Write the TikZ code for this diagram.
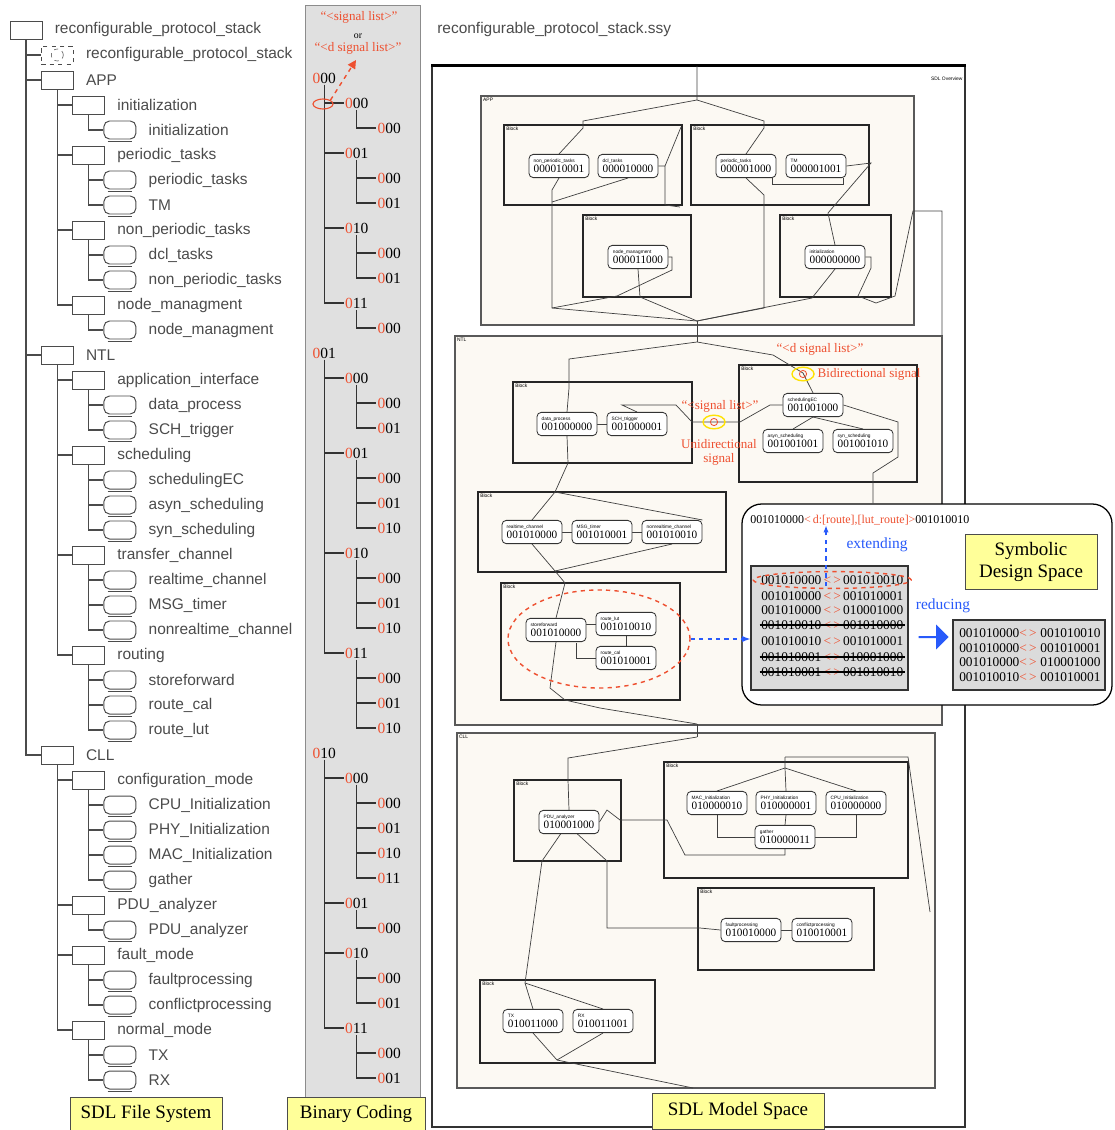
\documentclass[tikz,border=0pt]{standalone}
\usepackage{fontspec}
\setmainfont{Liberation Serif}
\newfontfamily\treefont{Liberation Sans}
\usetikzlibrary{positioning,fit,shapes.geometric,shapes.arrows,arrows.meta}

\definecolor{codered}{RGB}{238,80,48}
\definecolor{sdlblue}{RGB}{40,90,250}
\definecolor{labelyellow}{RGB}{255,255,153}
\definecolor{pkgfill}{RGB}{252,249,243}
\definecolor{panelgray}{RGB}{224,224,224}
\definecolor{treegray}{RGB}{75,75,75}

\newcommand{\sdlname}[1]{{\treefont\fontsize{3.4}{3.6}\selectfont #1}}
\newcommand{\pairrow}[2]{#1\,\textcolor{codered}{<\,>}\,#2}

\begin{document}
\begin{tikzpicture}[x=0.025cm, y=-0.025cm,
	treebox/.style={draw=treegray, line width=0.7pt, fill=white, minimum width=0.8cm, minimum height=0.45cm, inner sep=0pt},
	treetext/.style={text=treegray, font=\treefont\fontsize{11}{13}\selectfont, inner sep=0pt},
	treeline/.style={draw=treegray, line width=0.8pt},
	codetext/.style={font=\fontsize{11}{12}\selectfont, inner sep=1pt, anchor=west},
	codeline/.style={draw=black!80, line width=0.8pt},
	redtext/.style={text=codered, font=\fontsize{9.3}{10}\selectfont, inner sep=1pt},
	yellowlabel/.style={draw=black!70, fill=labelyellow, font=\fontsize{13.5}{15}\selectfont, inner sep=2pt, align=center},
	pkgbox/.style={draw=black!65, line width=1.3pt, fill=pkgfill, inner sep=0pt},
	blockbox/.style={draw=black!85, line width=1.1pt, fill=pkgfill, inner sep=0pt},
	procbox/.style={draw=black!80, line width=0.6pt, rounded corners=3pt, fill=white, minimum width=1.5cm, minimum height=0.58cm, inner sep=1pt, align=left, font=\fontsize{8}{7}\selectfont},
	chan/.style={draw=black!75, line width=0.5pt},
	tinytext/.style={font=\treefont\fontsize{3.5}{4}\selectfont, inner sep=2pt, anchor=north west},
	pairtext/.style={font=\fontsize{9.5}{10}\selectfont, inner sep=0pt, anchor=west},
	graybox/.style={draw=black!80, line width=0.8pt, fill=black!14, inner sep=0pt},
	markell/.style={draw=yellow!85!orange, ellipse, line width=1pt, minimum width=0.55cm, minimum height=0.34cm, inner sep=0pt}
	]
	\useasboundingbox (0,0) rectangle (1114,1130);
	
	% binary coding panel
	\node[fill=panelgray, draw=black!45, fit={(305,5) (420,1097)}, inner sep=0pt] (panel) {};
	
	% SDL file system tree
	\foreach \r/\l/\rc/\t in {0/0/0/reconfigurable\_protocol\_stack, 2/1/0/APP,
		3/2/0/initialization, 4/3/4/initialization, 5/2/0/periodic\_tasks, 6/3/4/periodic\_tasks, 7/3/4/TM,
		8/2/0/non\_periodic\_tasks, 9/3/4/dcl\_tasks, 10/3/4/non\_periodic\_tasks, 11/2/0/node\_managment, 12/3/4/node\_managment,
		13/1/0/NTL, 14/2/0/application\_interface, 15/3/4/data\_process, 16/3/4/SCH\_trigger,
		17/2/0/scheduling, 18/3/4/schedulingEC, 19/3/4/asyn\_scheduling, 20/3/4/syn\_scheduling,
		21/2/0/transfer\_channel, 22/3/4/realtime\_channel, 23/3/4/MSG\_timer, 24/3/4/nonrealtime\_channel,
		25/2/0/routing, 26/3/4/storeforward, 27/3/4/route\_cal, 28/3/4/route\_lut,
		29/1/0/CLL, 30/2/0/configuration\_mode, 31/3/4/CPU\_Initialization, 32/3/4/PHY\_Initialization,
		33/3/4/MAC\_Initialization, 34/3/4/gather, 35/2/0/PDU\_analyzer, 36/3/4/PDU\_analyzer,
		37/2/0/fault\_mode, 38/3/4/faultprocessing, 39/3/4/conflictprocessing,
		40/2/0/normal\_mode, 41/3/4/TX, 42/3/4/RX}{
		\node[treebox, rounded corners=\rc pt] (t\r) at ({26+31.3*\l},{30+25*\r}) {};
		\node[treetext, anchor=west, right=0.3cm of t\r] (l\r) {\t};
		\ifnum\rc>0
		\draw[treeline, line width=0.6pt] ([xshift=3pt,yshift=-1.4pt]t\r.south west) -- ([xshift=-3pt,yshift=-1.4pt]t\r.south east);
		\fi
	}
	\node[treebox, dashed] (t1) at (57.3,55) {};
	\node[draw=treegray, dashed, circle, minimum size=0.3cm, inner sep=0pt] (t1c) at (t1.center) {};
	\node[treetext, anchor=west, right=0.3cm of t1] (l1) {reconfigurable\_protocol\_stack};
	
	\foreach \ch/\pa in {1/0,2/0,13/0,29/0, 3/2,5/2,8/2,11/2, 4/3,6/5,7/5,9/8,10/8,12/11,
		14/13,17/13,21/13,25/13, 15/14,16/14,18/17,19/17,20/17,22/21,23/21,24/21,26/25,27/25,28/25,
		30/29,35/29,37/29,40/29, 31/30,32/30,33/30,34/30,36/35,38/37,39/37,41/40,42/40}
	\draw[treeline] (t\pa.south) |- (t\ch.west);
	
	% binary codes
	\foreach \r/\l/\cd in {2/1/00, 3/2/00, 4/3/00, 5/2/01, 6/3/00, 7/3/01, 8/2/10, 9/3/00, 10/3/01, 11/2/11, 12/3/00,
		13/1/01, 14/2/00, 15/3/00, 16/3/01, 17/2/01, 18/3/00, 19/3/01, 20/3/10, 21/2/10, 22/3/00, 23/3/01, 24/3/10,
		25/2/11, 26/3/00, 27/3/01, 28/3/10,
		29/1/10, 30/2/00, 31/3/00, 32/3/01, 33/3/10, 34/3/11, 35/2/01, 36/3/00, 37/2/10, 38/3/00, 39/3/01,
		40/2/11, 41/3/00, 42/3/01}
	\node[codetext] (c\r) at ({311+32.5*(\l-1)},{28+25*\r}) {\textcolor{codered}{0}\cd};
	
	\foreach \ch/\pa in {3/2,5/2,8/2,11/2, 4/3,6/5,7/5,9/8,10/8,12/11,
		14/13,17/13,21/13,25/13, 15/14,16/14,18/17,19/17,20/17,22/21,23/21,24/21,26/25,27/25,28/25,
		30/29,35/29,37/29,40/29, 31/30,32/30,33/30,34/30,36/35,38/37,39/37,41/40,42/40}
	\draw[codeline] (c\pa.south) |- (c\ch.west);
	
	\node[redtext] (siglist) at (359,17) {“<signal list>”};
	\node[font=\fontsize{7}{8}\selectfont, inner sep=0pt] (orword) at (358,36) {or};
	\node[redtext] (dsiglist) at (358,48) {“<d signal list>”};
	\node[draw=codered, ellipse, line width=0.8pt, minimum width=0.5cm, minimum height=0.25cm, inner sep=0pt] (junc) at (323,104) {};
	\draw[codered, dashed, line width=1pt, -{Triangle[length=6pt,width=6pt]}] (junc.north east) -- (356,60);
	
	% SDL model space
	\node[treetext, anchor=west] (ssy) at (437,30) {reconfigurable\_protocol\_stack.ssy};
	\node[draw=black!80, line width=0.8pt, fit={(432,66) (965,1127)}, inner sep=0pt] (frame) {};
	\draw[line width=1.8pt] (frame.north west) -- (frame.north east);
	\node[tinytext, anchor=north east] (ovw) at ([yshift=-6pt]frame.north east) {SDL Overview};
	
	\node[pkgbox, fit={(481,96) (914,325)}] (app) {};
	\node[pkgbox, fit={(455,336) (942,725)}] (ntl) {};
	\node[pkgbox, fit={(457,733) (935,1088)}] (cll) {};
	\node[tinytext] at (app.north west) {APP};
	\node[tinytext] at (ntl.north west) {NTL};
	\node[tinytext] at (cll.north west) {CLL};
	
	\node[blockbox, fit={(504,125) (682,205)}] (b1) {};
	\node[blockbox, fit={(691,125) (869,205)}] (b2) {};
	\node[blockbox, fit={(583,215) (691,297)}] (b3) {};
	\node[blockbox, fit={(780,215) (891,297)}] (b4) {};
	\node[blockbox, fit={(513,382) (692,463)}] (bA) {};
	\node[blockbox, fit={(739,365) (917,482)}] (bB) {};
	\node[blockbox, fit={(478,492) (726,572)}] (bC) {};
	\node[blockbox, fit={(501,583) (680,700)}] (bD) {};
	\node[blockbox, fit={(514,780) (621,861)}] (bE) {};
	\node[blockbox, fit={(664,762) (908,878)}] (bF) {};
	\node[blockbox, fit={(698,888) (874,970)}] (bG) {};
	\node[blockbox, fit={(480,980) (655,1063)}] (bH) {};
	\foreach \b in {b1,b2,b3,b4,bA,bB,bC,bD,bE,bF,bG,bH}
	\node[tinytext] at (\b.north west) {Block};
	
	\foreach \n/\x/\y/\nm/\cd in {1/559/166/non\_periodic\_tasks/000010001, 2/628/166/dcl\_tasks/000010000,
		3/746/166/periodic\_tasks/000001000, 4/816/166/TM/000001001,
		5/638/257/node\_managment/000011000, 6/835/257/initialization/000000000,
		7/567/424/data\_process/001000000, 8/637/424/SCH\_trigger/001000001,
		9/813/405/schedulingEC/001001000, 10/793/441/asyn\_scheduling/001001001, 11/863/441/syn\_scheduling/001001010,
		12/532/532/realtime\_channel/001010000, 13/602/532/MSG\_timer/001010001, 14/672/532/nonrealtime\_channel/001010010,
		15/556/630/storeforward/001010000, 16/626/624/route\_lut/001010010, 17/626/658/route\_cal/001010001,
		18/569/822/PDU\_analyzer/010001000, 19/717/803/MAC\_Initialization/010000010,
		20/786/803/PHY\_Initialization/010000001, 21/856/803/CPU\_Initialization/010000000,
		22/785/837/gather/010000011, 23/751/930/faultprocessing/010010000, 24/822/930/conflictprocessing/010010001,
		25/533/1021/TX/010011000, 26/603/1021/RX/010011001}
	\coordinate (q\n) at (\x,\y);
	
	% channels
	\coordinate (fTop) at (697,66);
	\coordinate (aTop) at (697,100);
	\coordinate (aBot) at (697,321);
	\coordinate (nTop) at (697,342);
	\coordinate (nBot) at (697,724);
	\coordinate (cTop) at (697,737);
	\coordinate (cBot) at (693,1088);
	
	\foreach \n/\x/\y/\nm/\cd in {1/559/166/non\_periodic\_tasks/000010001, 2/628/166/dcl\_tasks/000010000,
		3/746/166/periodic\_tasks/000001000, 4/816/166/TM/000001001,
		5/638/257/node\_managment/000011000, 6/835/257/initialization/000000000,
		7/567/424/data\_process/001000000, 8/637/424/SCH\_trigger/001000001,
		9/813/405/schedulingEC/001001000, 10/793/441/asyn\_scheduling/001001001, 11/863/441/syn\_scheduling/001001010,
		12/532/532/realtime\_channel/001010000, 13/602/532/MSG\_timer/001010001, 14/672/532/nonrealtime\_channel/001010010,
		15/556/630/storeforward/001010000, 16/626/624/route\_lut/001010010, 17/626/658/route\_cal/001010001,
		18/569/822/PDU\_analyzer/010001000, 19/717/803/MAC\_Initialization/010000010,
		20/786/803/PHY\_Initialization/010000001, 21/856/803/CPU\_Initialization/010000000,
		22/785/837/gather/010000011, 23/751/930/faultprocessing/010010000, 24/822/930/conflictprocessing/010010001,
		25/533/1021/TX/010011000, 26/603/1021/RX/010011001}
	\node[procbox, opacity=0] (p\n) at (\x,\y) {\sdlname{\nm}\\\cd};
	
	\draw[chan] (fTop) -- (aTop) -- (583,121) -- (583,128) -- (p1.north);
	\draw[chan] (aTop) -- (764,121) -- (764,128) -- (p3.north);
	\draw[chan] (p1.south) -- (552,190) -- (552,308) -- (aBot);
	\draw[chan] (p2.south) -- (552,202);
	\draw[chan] (p3.south) -- (764,195) -- (764,308) -- (aBot);
	\draw[chan] (p2.east) -- (665,166) -- (665,205) -- (680,207);
	\draw[chan] (665,166) -- (681,127);
	\draw[chan] ([xshift=-3pt]p3.south east) -- ++(0,6) -| ([xshift=-2pt]p4.south east);
	\draw[chan] (p4.east) -- (871,163) -- (828,213) -- (p6.north);
	\draw[chan] (p5.south) -- (640,297) -- (aBot);
	\draw[chan] (p5.east) -- (672,257) -- (672,270) -- (617,296) -- (552,308);
	\draw[chan] (p6.south) -- (812,298) -- (aBot);
	\draw[chan] (p6.east) -- (871,257) -- (871,268) -- (858,296) -- (876,303) -- (895,296) -- (913,211) -- (942,211) -- (942,336);
	\draw[chan] (aBot) -- (nTop);
	
	\draw[chan] (nTop) -- (569,359) -- (569,388) -- (p7.north);
	\draw[chan] (nTop) -- (773,355) -- (803,373) -- (p9.north);
	\draw[chan] (p8.north) -- (622,405) -- (676,405) -- (692,422) -- (740,422) -- (770,405) -- (p9.west);
	\draw[chan] (p7.east) -- (p8.west);
	\draw[chan] (p7.south) -- (568,463) -- (555,492) coordinate (cJ) -- (p12.north);
	\draw[chan] (cJ) -- (p14.north east);
	\draw[chan] (p12.south) -- (555,571) coordinate (dJ);
	\draw[chan] (p14.south) -- (dJ);
	\draw[chan] (p12.east) -- (p13.west);
	\draw[chan] (p13.east) -- (p14.west);
	\draw[chan] (dJ) -- (565,583) -- (p15.north);
	\draw[chan] (p15.south) -- (550,688) -- (565,700) -- (600,708) -- (nBot);
	\draw[chan] (p16.west) -- (p16.west -| p15.east);
	\draw[chan] (p16.south) -- (p17.north);
	\draw[chan] (p17.west) -| (576,643);
	\draw[chan] (p9.south) -- (p10.north);
	\draw[chan] (p9.south) -- (p11.north);
	\draw[chan] (p9.east) -- (898,422) -- (898,457) -- (873,473) -- (873,503);
	\draw[chan] (nBot) -- (cTop);
	
	\draw[chan] (cTop) -- (568,758) -- (568,780) -- (p18.north);
	\draw[chan] (p18.east) -- (607,810) -- (620,820) -- (667,820) coordinate (fJ);
	\draw[chan] (fJ) -- (685,855) -- (785,855) -- (p22.south);
	\draw[chan] (785,757) coordinate (gJ) -- (785,768) coordinate (gK) -- (p19.north);
	\draw[chan] (gK) -- (p20.north);
	\draw[chan] (gK) -- (p21.north);
	\draw[chan] (gJ) -- (908,757) -- (930,912);
	\draw[chan] (p19.south) |- (p22.west);
	\draw[chan] (p21.south) |- (p22.east);
	\draw[chan] (p20.south) -- (p22.north);
	\draw[chan] ([xshift=-6pt]p18.south) -- (542,861) -- (525,983) coordinate (hJ) -- (p25.north);
	\draw[chan] (hJ) -- (p26.north);
	\draw[chan] ([xshift=6pt]p18.south) -- (607,861) -- (607,928) -- (700,928) -- (p23.west);
	\draw[chan] (p23.east) -- (p24.west);
	\draw[chan] (p25.south) -- (557,1060) coordinate (kJ);
	\draw[chan] (p26.south) -- (kJ);
	\draw[chan] (kJ) -- (cBot);
	
	% processes
	\foreach \n/\nm/\cd in {1/non\_periodic\_tasks/000010001, 2/dcl\_tasks/000010000,
		3/periodic\_tasks/000001000, 4/TM/000001001, 5/node\_managment/000011000, 6/initialization/000000000,
		7/data\_process/001000000, 8/SCH\_trigger/001000001, 9/schedulingEC/001001000,
		10/asyn\_scheduling/001001001, 11/syn\_scheduling/001001010,
		12/realtime\_channel/001010000, 13/MSG\_timer/001010001, 14/nonrealtime\_channel/001010010,
		15/storeforward/001010000, 16/route\_lut/001010010, 17/route\_cal/001010001,
		18/PDU\_analyzer/010001000, 19/MAC\_Initialization/010000010, 20/PHY\_Initialization/010000001,
		21/CPU\_Initialization/010000000, 22/gather/010000011, 23/faultprocessing/010010000,
		24/conflictprocessing/010010001, 25/TX/010011000, 26/RX/010011001}
	\node[procbox] at (q\n) {\sdlname{\nm}\\\cd};
	
	% signal marks
	\node[redtext] (dsig) at (820,349) {“<d signal list>”};
	\node[markell] (bie) at (803,374) {};
	\node[draw=codered, circle, minimum size=0.18cm, inner sep=0pt, line width=0.6pt] (bic) at (bie.center) {};
	\node[redtext, anchor=west] (bitxt) at (816,374) {Bidirectional signal};
	\node[redtext] (usig) at (720,406) {“<signal list>”};
	\node[markell] (uni) at (714,422) {};
	\node[draw=codered, circle, minimum size=0.18cm, inner sep=0pt, line width=0.6pt] (unic) at (uni.center) {};
	\node[redtext, align=center] (unitxt) at (719,452) {Unidirectional\\signal};
	\node[draw=codered, dashed, line width=1pt, ellipse, minimum width=4.55cm, minimum height=2.45cm] (selell) at (599,639) {};
	
	% symbolic design space
	\node[draw=black, line width=0.9pt, rounded corners=14pt, fill=white, fit={(742,504) (1112,705)}, inner sep=0pt] (dspace) {};
	\node[font=\fontsize{8.5}{9}\selectfont, inner sep=0pt, anchor=west] (ctop) at (750,520)
	{001010000\textcolor{codered}{<\,d:[route],[lut\_route]>}001010010};
	\node[graybox, fit={(751,566) (908,690)}] (gray1) {};
	\foreach \i/\y/\a/\b in {1/580/001010000/001010010, 2/596/001010000/001010001, 3/610/001010000/010001000,
		4/625/001010010/001010000, 5/641/001010010/001010001, 6/657/001010001/010001000, 7/672/001010001/001010010}
	\node[pairtext] (r\i) at (761,\y) {\pairrow{\a}{\b}};
	\foreach \i in {4,6,7}
	\draw[line width=1pt] ([xshift=-1pt]r\i.west) -- ([xshift=1pt]r\i.east);
	\node[draw=codered, dashed, line width=1pt, ellipse, minimum width=3.95cm, minimum height=0.42cm, inner sep=0pt] (r1ell) at (r1.center) {};
	\coordinate (extfoot) at (826,586);
	\draw[sdlblue, dashed, line width=0.9pt, -{Latex[length=5pt]}] (extfoot) -- (extfoot |- ctop.south);
	\node[text=sdlblue, font=\fontsize{11}{12}\selectfont] (extword) at (877,545) {extending};
	\draw[sdlblue, dashed, line width=0.9pt, -{Latex[length=6pt]}] (selell.east) -- (selell.east -| gray1.west);
	\node[yellowlabel, minimum width=3.3cm, minimum height=1.38cm, font=\fontsize{13.5}{16}\selectfont] (sds) at (1031,562) {Symbolic\\Design Space};
	\node[text=sdlblue, font=\fontsize{11}{12}\selectfont] (redword) at (943,606) {reducing};
	\node[single arrow, fill=sdlblue, minimum height=0.75cm, minimum width=0.62cm, single arrow head extend=0.08cm, inner sep=0pt] (bigarr) at (933,637) {};
	\node[graybox, fit={(953,620) (1105,690)}] (gray2) {};
	\foreach \i/\y/\a/\b in {1/633/001010000/001010010, 2/648/001010000/001010001, 3/662/001010000/010001000, 4/677/001010010/001010001}
	\node[pairtext] (s\i) at (959,\y) {\a\textcolor{codered}{<\,>}\;\b};
	
	% bottom labels
	\node[yellowlabel, minimum width=3.8cm, minimum height=0.85cm] (fsys) at (146,1114) {SDL File System};
	\node[yellowlabel, minimum width=3.45cm, minimum height=0.85cm] (bcod) at (356,1114) {Binary Coding};
	\node[yellowlabel, minimum width=4.3cm, minimum height=0.9cm] (mspace) at (738,1111) {SDL Model Space};
\end{tikzpicture}
\end{document}
